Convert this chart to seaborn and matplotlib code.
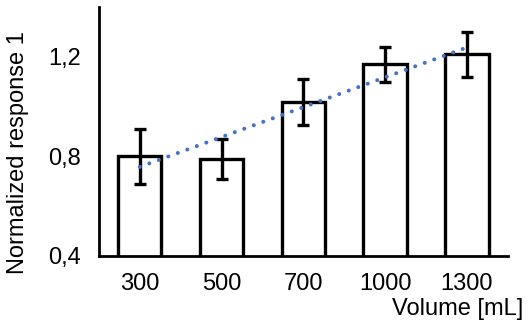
import numpy as np
import pandas as pd
import matplotlib
matplotlib.use("Agg")
import matplotlib.pyplot as plt
import seaborn as sns

volumes = ["300", "500", "700", "1000", "1300"]
response = [0.80, 0.79, 1.02, 1.17, 1.21]
response_err = [0.11, 0.08, 0.093, 0.07, 0.09]
y_ticks = [0.4, 0.8, 1.2]
y_tick_labels = ["0,4", "0,8", "1,2"]

sns.set_theme(style="ticks")
plt.rcParams["font.family"] = ["Liberation Sans", "DejaVu Sans"]

df = pd.DataFrame({"volume": volumes, "response": response})
pos = np.arange(len(volumes))

fig = plt.figure(figsize=(5.29, 3.24), dpi=100)
ax = fig.add_axes([0.187, 0.21, 0.773, 0.768])

sns.barplot(data=df, x="volume", y="response", order=volumes, ax=ax,
            color="white", edgecolor="black", linewidth=2.4, width=0.53,
            errorbar=None, saturation=1)
ax.errorbar(pos, response, yerr=response_err, fmt="none", ecolor="black",
            elinewidth=2.4, capsize=4.5, capthick=2.4, zorder=3)

# linear trend through the bar heights
sns.regplot(x=pos, y=np.array(response), ax=ax, scatter=False, ci=None,
            truncate=True,
            line_kws=dict(color="#4472C4", lw=2.9, ls=(0, (0.01, 2.5)),
                          dash_capstyle="round", zorder=4))

ax.set_ylim(0.4, 1.4)
ax.set_xlim(-0.5, 4.5)
ax.set_yticks(y_ticks)
ax.set_yticklabels(y_tick_labels)
ax.tick_params(axis="both", length=0, labelsize=17, colors="black")
ax.tick_params(axis="x", pad=12)
ax.tick_params(axis="y", pad=13)
sns.despine(ax=ax)
for s in ("left", "bottom"):
    ax.spines[s].set_linewidth(2.0)
    ax.spines[s].set_color("black")

ax.set_xlabel("")
ax.set_ylabel("Normalized response 1", fontsize=17, color="black")
ax.yaxis.set_label_coords(-0.171, 0.415)
fig.text(0.989, 0.046, "Volume [mL]", ha="right", va="center", fontsize=17,
         color="black")

fig.savefig("out.png", dpi=100, facecolor="white")
